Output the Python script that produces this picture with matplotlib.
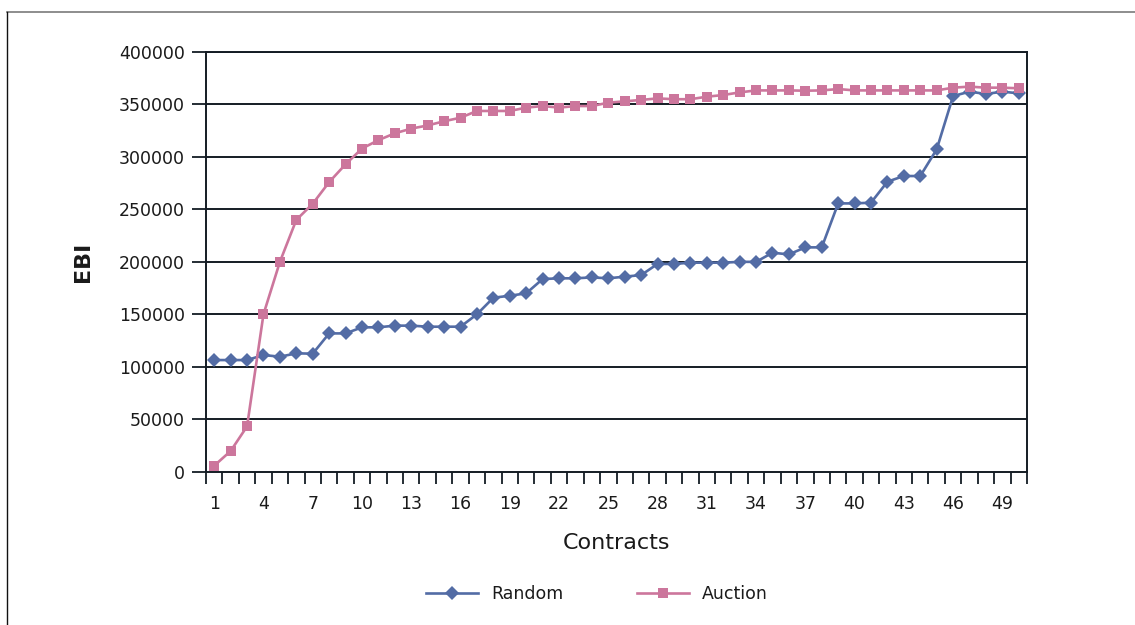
import matplotlib
matplotlib.use("Agg")
import matplotlib.pyplot as plt
from matplotlib.lines import Line2D
import numpy as np

# ----------------------------------------------------------------------
# Data
# ----------------------------------------------------------------------
contracts = list(range(1, 51))

random_ebi = [
    106400, 106400, 106400, 111200, 109600, 112800, 112500, 131800, 131800, 137600,
    137600, 139200, 139200, 138200, 138200, 138200, 150000, 165800, 167700, 170000,
    183600, 184300, 184300, 185200, 184300, 185900, 187400, 198000, 198000, 199200,
    199200, 199200, 200000, 200000, 208700, 207100, 213800, 213800, 255700, 255700,
    256400, 276400, 281800, 281800, 307200, 358000, 362200, 360000, 362200, 360600,
]

auction_ebi = [
    5700, 19700, 43200, 150000, 200000, 240000, 255400, 276000, 293000, 308000,
    316000, 322500, 327000, 330000, 334000, 337400, 343800, 343800, 343800, 347000,
    348500, 347000, 348500, 348500, 351700, 353000, 354300, 355800, 355000, 355000,
    357400, 359000, 361500, 363400, 363400, 363400, 363100, 363400, 364700, 363400,
    363400, 363400, 363400, 363400, 363400, 366000, 367000, 366000, 366000, 365400,
]

series_names = ["Random", "Auction"]
tick_labels = [str(c) for c in contracts[::3]]

# ----------------------------------------------------------------------
# Style
# ----------------------------------------------------------------------
blue = "#536CA5"
pink = "#CC769C"
grid_col = "#141c24"
text_col = "#1a1a1a"

plt.rcParams["font.family"] = ["DejaVu Sans"]
plt.rcParams["text.color"] = text_col
plt.rcParams["axes.labelcolor"] = text_col
plt.rcParams["xtick.color"] = grid_col
plt.rcParams["ytick.color"] = grid_col
plt.rcParams["xtick.labelcolor"] = text_col
plt.rcParams["ytick.labelcolor"] = text_col

fig = plt.figure(figsize=(11.35, 6.25), dpi=100)
ax = fig.add_axes([206 / 1135, 1 - 471.7 / 625, (1027 - 206) / 1135, (471.7 - 52) / 625])

# horizontal gridlines
for v in range(50000, 400001, 50000):
    ax.axhline(v, color=grid_col, lw=1.4, zorder=1)

ax.plot(contracts, random_ebi, color=blue, lw=1.9, marker="D", markersize=7.4,
        markeredgewidth=0, label=series_names[0], zorder=3)
ax.plot(contracts, auction_ebi, color=pink, lw=1.9, marker="s", markersize=7.4,
        markeredgewidth=0, label=series_names[1], zorder=3)

ax.set_xlim(0.5, 50.5)
ax.set_ylim(0, 400000)

for side in ["left", "right", "bottom", "top"]:
    ax.spines[side].set_color(grid_col)
    ax.spines[side].set_linewidth(1.4)

# y axis
ax.set_yticks(range(0, 400001, 50000))
ax.set_yticklabels([str(v) for v in range(0, 400001, 50000)], fontsize=12.5)
ax.tick_params(axis="y", direction="out", length=10, width=1.3, pad=5)

# x axis: ticks between categories, labels every third contract
ax.set_xticks(contracts[::3])
ax.set_xticklabels(tick_labels, fontsize=12.5)
ax.set_xticks(np.arange(0.5, 51, 1), minor=True)
ax.tick_params(axis="x", which="major", length=0, pad=17)
ax.tick_params(axis="x", which="minor", direction="out", length=8.6, width=1.3)

ax.set_ylabel("EBI", fontsize=16, fontweight="bold")
ax.yaxis.set_label_coords(-0.138, 0.5)
ax.set_xlabel("Contracts", fontsize=16)
ax.xaxis.set_label_coords(0.5, -0.146)

leg = fig.legend(loc="center", bbox_to_anchor=(597 / 1135, 1 - 594 / 625), ncol=2,
                 frameon=False, fontsize=12.5, handlelength=3.0, handletextpad=0.75,
                 columnspacing=4.2)

# outer frame lines of the original figure box
fig.add_artist(Line2D([7 / 1135, 1], [1 - 11.7 / 625, 1 - 11.7 / 625],
                      transform=fig.transFigure, color="#7a7a7a", lw=1.2))
fig.add_artist(Line2D([7.3 / 1135, 7.3 / 1135], [0, 1 - 11.7 / 625],
                      transform=fig.transFigure, color="#111111", lw=1.0))

fig.savefig("out.png", dpi=100)
